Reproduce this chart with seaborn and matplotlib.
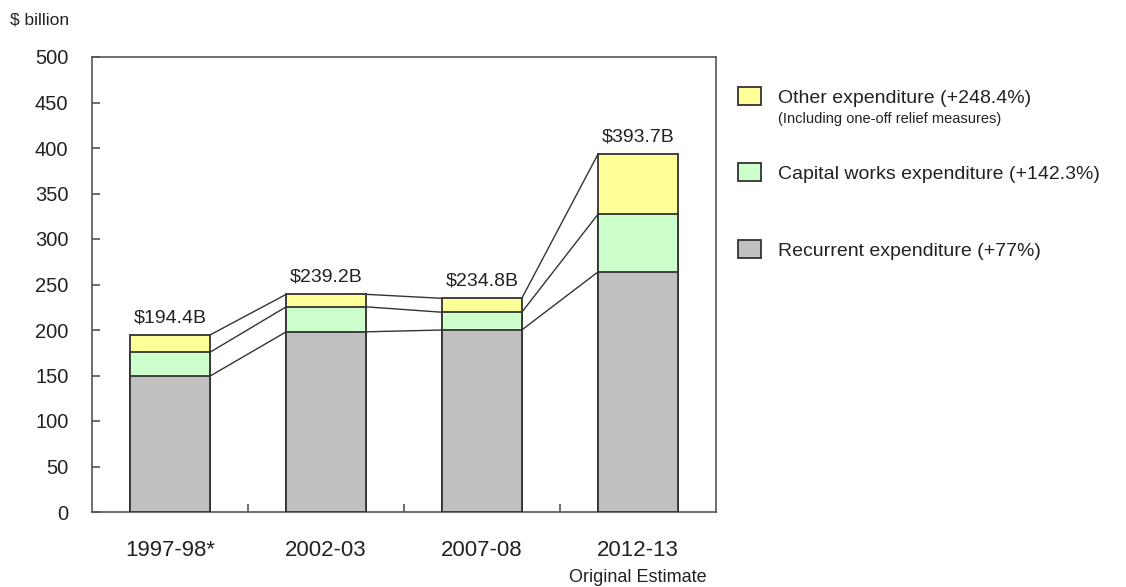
import pandas as pd
import matplotlib
matplotlib.use("Agg")
import matplotlib.pyplot as plt
import seaborn as sns
from matplotlib.patches import Patch
from matplotlib.transforms import blended_transform_factory

sns.set_theme(style="ticks")
plt.rcParams['font.family'] = ['Liberation Sans', 'DejaVu Sans']

# --- data ($ billion) ---
years = ["1997-98*", "2002-03", "2007-08", "2012-13"]
recurrent = [149.2, 198.0, 200.0, 264.0]
capital = [26.2, 27.5, 19.5, 63.5]
other = [19.0, 13.7, 15.3, 66.2]
totals = ["$194.4B", "$239.2B", "$234.8B", "$393.7B"]

legend_labels = ["Other expenditure (+248.4%)",
                 "Capital works expenditure (+142.3%)",
                 "Recurrent expenditure (+77%)"]
other_note = "(Including one-off relief measures)"

colors = {"other": "#FFFF99", "capital": "#CCFFCC", "recurrent": "#C0C0C0"}
edge = "#333333"
text_col = "#222222"

df = pd.DataFrame({"year": years, "recurrent": recurrent,
                   "capital": capital, "other": other})
df["level1"] = df["recurrent"]
df["level2"] = df["recurrent"] + df["capital"]
df["level3"] = df["level2"] + df["other"]

fig = plt.figure(figsize=(11.26, 5.87), dpi=100)
ax = fig.add_axes([92 / 1126, 75 / 587, 624 / 1126, 455 / 587])

bar_w = 0.51
# overlapping bars, tallest first, to get the stack
for col, key in [("level3", "other"), ("level2", "capital"), ("level1", "recurrent")]:
    sns.barplot(data=df, x="year", y=col, color=colors[key], saturation=1,
                width=bar_w, edgecolor=edge, linewidth=1.3, ax=ax, zorder=3)

# connector lines between the stacks
for col in ["level1", "level2", "level3"]:
    vals = df[col].tolist()
    for i in range(len(vals) - 1):
        ax.plot([i + bar_w / 2, i + 1 - bar_w / 2], [vals[i], vals[i + 1]],
                color=edge, lw=1.0, zorder=2)

# total labels
for i, (v, lab) in enumerate(zip(df["level3"], totals)):
    ax.annotate(lab, (i, v), xytext=(0, 6), textcoords="offset points",
                ha="center", va="bottom", fontsize=14, color=text_col)

ax.set_xlim(-0.5, 3.5)
ax.set_ylim(0, 500)
ax.set_yticks(range(0, 501, 50))
ax.set_xlabel("")
ax.set_ylabel("")
ax.tick_params(axis="y", direction="in", length=6, width=1.2, color="#555555",
               labelsize=14.5, labelcolor=text_col, pad=17)
ax.tick_params(axis="x", which="major", length=0, labelsize=16,
               labelcolor=text_col, pad=20)
ax.set_xticks([0.5, 1.5, 2.5], minor=True)
ax.tick_params(axis="x", which="minor", direction="in", length=6, width=1.2,
               color="#555555")
for sp in ax.spines.values():
    sp.set_visible(True)
    sp.set_color("#555555")
    sp.set_linewidth(1.2)

trans = blended_transform_factory(ax.transData, fig.transFigure)
ax.text(3, 1 - 577 / 587, "Original Estimate", transform=trans, ha="center",
        va="center", fontsize=13, color=text_col)
fig.text(10 / 1126, 1 - 20 / 587, "$ billion", ha="left", va="center",
         fontsize=12.5, color=text_col)

handles = [Patch(facecolor=colors[k], edgecolor=edge, linewidth=1.3)
           for k in ["other", "capital", "recurrent"]]
fig.legend(handles, legend_labels, loc="upper left",
           bbox_to_anchor=(738 / 1126, 1 - 87 / 587), frameon=False,
           fontsize=14, handlelength=1.2, handleheight=1.05, handletextpad=0.85,
           labelspacing=2.92, borderpad=0, borderaxespad=0,
           labelcolor=text_col)
fig.text(778 / 1126, 1 - 119 / 587, other_note, ha="left", va="center",
         fontsize=10.5, color=text_col)

fig.savefig("out.png", dpi=100)
